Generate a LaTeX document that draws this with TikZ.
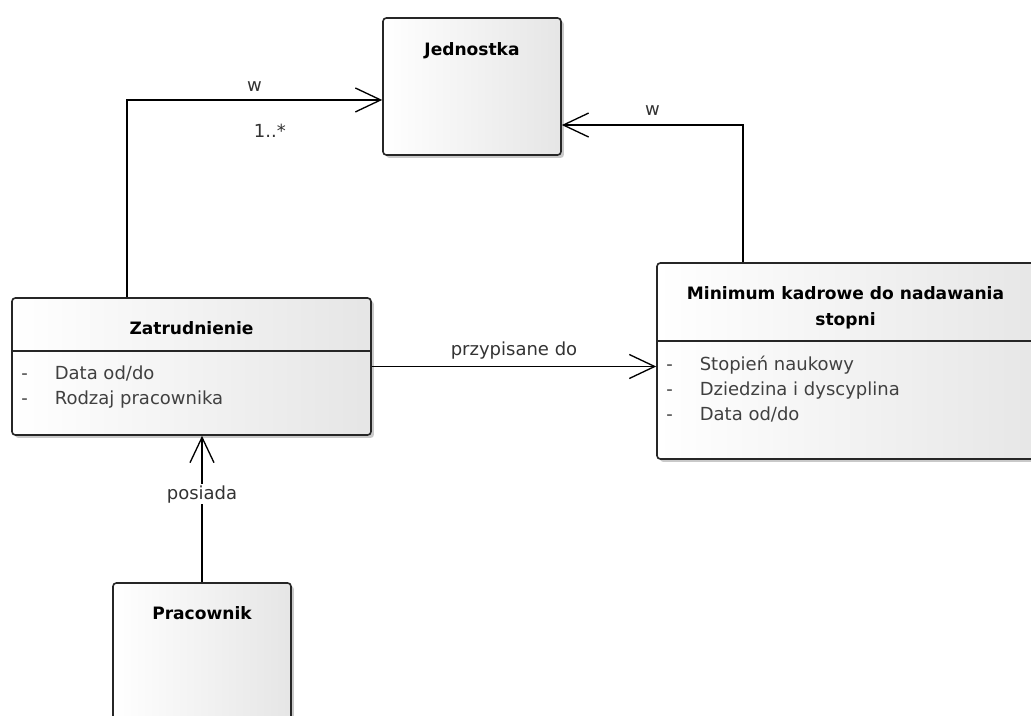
\documentclass[tikz,border=0pt]{standalone}
\usepackage{fontspec}
\setmainfont{DejaVu Sans}
\usetikzlibrary{arrows.meta,shadows,positioning}
\begin{document}
\begin{tikzpicture}[x=0.75pt,y=-0.75pt,
  box/.style={draw=black!85,line width=1.2pt,rounded corners=2.5pt,left color=white,right color=black!10,
    drop shadow={shadow xshift=2.2pt,shadow yshift=-2.2pt,fill=black!35,opacity=0.6},inner sep=0pt},
  title/.style={font=\fontsize{12.8}{19.5}\selectfont\bfseries,align=center,inner sep=0pt},
  attr/.style={font=\fontsize{13.5}{18.75}\selectfont,text=black!75,align=left,anchor=north west,inner sep=0pt},
  assoc/.style={line width=1pt,-{Straight Barb[length=19pt,width=18pt,line width=1pt]}},
  lbl/.style={font=\fontsize{13.5}{16}\selectfont,text=black!80,inner sep=1pt}]
\useasboundingbox (0,0) rectangle (1031,716);
\fill[white] (0,0) rectangle (1031,716);
\clip (0,0) rectangle (1031,716);

% classes
\node[box,minimum width=133.5pt,minimum height=102.75pt] (jed) at (472,86.5) {};
\node[title,below=18.5pt of jed.north] (jedT) {Jednostka};

\node[box,minimum width=269.25pt,minimum height=102.75pt] (zat) at (191.5,366.5) {};
\node[title,below=18pt of zat.north] (zatT) {Zatrudnienie};
\draw[line width=1.2pt,draw=black!85] ([yshift=-40.5pt]zat.north west) -- ([yshift=-40.5pt]zat.north east);
\node[attr] (zatA) at ([xshift=7.5pt,yshift=-51pt]zat.north west)
  {\makebox[25pt][l]{-}Data od/do\\ \makebox[25pt][l]{-}Rodzaj pracownika};

\node[box,minimum width=294.75pt,minimum height=147pt] (min) at (853.5,361) {};
\node[title,below=18pt of min.north,xshift=-6pt] (minT) {Minimum kadrowe do nadawania\\ stopni};
\draw[line width=1.2pt,draw=black!85] ([yshift=-59.25pt]min.north west) -- ([yshift=-59.25pt]min.north east);
\node[attr] (minA) at ([xshift=7.5pt,yshift=-70pt]min.north west)
  {\makebox[25pt][l]{-}Stopień naukowy\\ \makebox[25pt][l]{-}Dziedzina i dyscyplina\\ \makebox[25pt][l]{-}Data od/do};

\node[box,minimum width=133.5pt,minimum height=102.75pt] (pra) at (202,651.5) {};
\node[title,below=18pt of pra.north] (praT) {Pracownik};

% associations
\draw[assoc] ([xshift=-48.4pt]zat.north) |- ([yshift=-10.1pt]jed.west)
  node[lbl,pos=0.75,above=5pt] {w}
  node[lbl,pos=0.78,below=17pt] {1..*};
\draw[assoc] ([xshift=-82.9pt]min.north) |- ([yshift=-28.9pt]jed.east)
  node[lbl,pos=0.75,above=6pt] {w};
\draw[assoc] (zat.east) -- (zat.east -| min.west)
  node[lbl,midway,above=4pt] {przypisane do};
\draw[assoc] (pra.north) -- (pra.north |- zat.south)
  node[lbl,fill=white,pos=0.6] {posiada};
\end{tikzpicture}
\end{document}
